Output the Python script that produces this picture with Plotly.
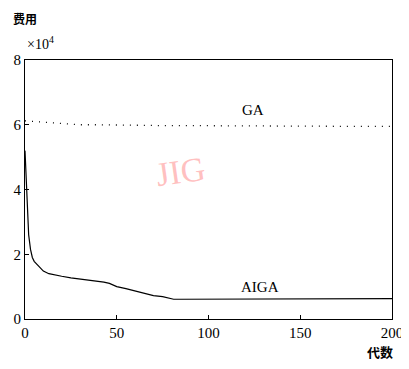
import plotly.graph_objects as go

# generation numbers and costs (x10^4)
aiga_x = [0, 1, 2, 3, 4, 5, 6, 8, 10, 13, 16, 20, 25, 30, 35, 40, 43, 46, 50, 55, 60, 65, 70, 75, 78, 81, 85, 90, 100, 110, 120, 130, 140, 150, 160, 170, 180, 190, 200]
aiga_y = [5.2, 3.6, 2.6, 2.15, 1.9, 1.78, 1.72, 1.6, 1.48, 1.4, 1.36, 1.32, 1.27, 1.24, 1.2, 1.16, 1.14, 1.1, 1.0, 0.94, 0.87, 0.8, 0.72, 0.69, 0.66, 0.61, 0.61, 0.61, 0.62, 0.62, 0.63, 0.63, 0.63, 0.63, 0.63, 0.63, 0.63, 0.63, 0.63]
ga_x = [0, 5, 10, 15, 20, 25, 30, 40, 60, 80, 100, 120, 140, 160, 180, 200]
ga_y = [6.12, 6.1, 6.08, 6.05, 6.03, 6.02, 6.0, 6.0, 5.98, 5.97, 5.97, 5.96, 5.96, 5.95, 5.95, 5.95]
x_ticks = [0, 50, 100, 150, 200]
y_ticks = [0, 2, 4, 6, 8]

tfont = dict(family="Liberation Serif", size=15, color="black")

fig = go.Figure()
fig.add_trace(go.Scatter(x=ga_x, y=ga_y, mode="lines",
                         line=dict(color="black", width=1.3, dash="1px,6px"), showlegend=False))
fig.add_trace(go.Scatter(x=aiga_x, y=aiga_y, mode="lines",
                         line=dict(color="black", width=1.2), showlegend=False))

axis_common = dict(showgrid=False, zeroline=False, automargin=False,
                   showline=True, linecolor="black", linewidth=1, mirror=True,
                   ticks="inside", ticklen=4, tickcolor="black", tickfont=tfont)

fig.update_layout(
    width=401, height=361,
    margin=dict(l=17, r=17, t=52, b=50),
    paper_bgcolor="white", plot_bgcolor="white",
    font=tfont,
    xaxis=dict(range=[0, 200], tickvals=x_ticks, **axis_common),
    yaxis=dict(range=[0, 8], tickvals=y_ticks, **axis_common),
    annotations=[
        dict(text="<b>费用</b>", xref="paper", yref="paper", x=0.0, y=1.2,
             xanchor="center", yanchor="top", showarrow=False,
             font=dict(family="Noto Sans CJK SC", size=12, color="black")),
        dict(text="×10<sup>4</sup>", xref="paper", yref="paper", x=0.0, y=1.065,
             xanchor="left", yanchor="middle", showarrow=False,
             font=dict(family="Liberation Serif", size=14, color="black")),
        dict(text="<b>代数</b>", xref="paper", yref="paper", x=0.967, y=-0.127,
             xanchor="center", yanchor="middle", showarrow=False,
             font=dict(family="Noto Sans CJK SC", size=13, color="black")),
        dict(text="GA", x=124, y=6.45, xref="x", yref="y", showarrow=False,
             font=dict(family="Liberation Serif", size=15, color="black")),
        dict(text="AIGA", x=128, y=1.0, xref="x", yref="y", showarrow=False,
             font=dict(family="Liberation Serif", size=15, color="black")),
        dict(text="JIG", x=85, y=4.55, xref="x", yref="y", showarrow=False,
             textangle=-8,
             font=dict(family="Liberation Serif", size=34, color="rgba(255,150,150,0.6)")),
    ],
)

fig.write_html("out.html")
